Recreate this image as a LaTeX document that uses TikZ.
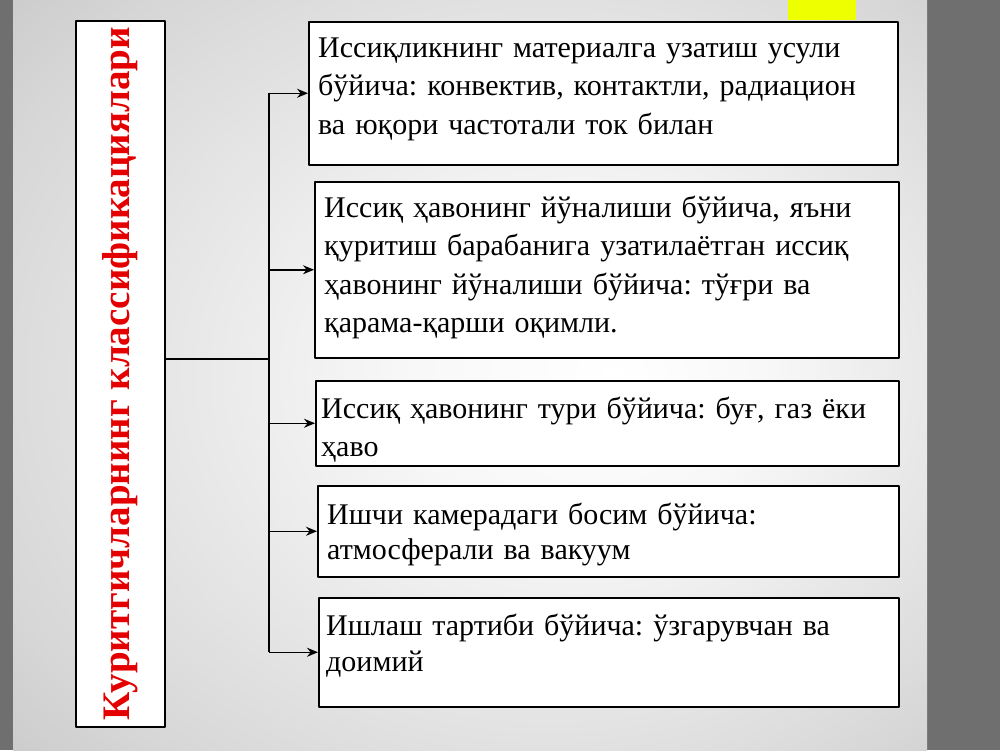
\documentclass[tikz,border=0pt]{standalone}
\usepackage{fontspec}
\setmainfont{Liberation Serif}
\usetikzlibrary{positioning,arrows.meta}
\definecolor{slidegray}{RGB}{111,111,111}
\definecolor{titlered}{RGB}{228,0,0}
\definecolor{markyellow}{RGB}{238,255,0}
\pgfdeclareradialshading{slideshade}{\pgfpoint{8bp}{0bp}}{color(0bp)=(white); color(10bp)=(white!97!black); color(32bp)=(white!84!black); color(50bp)=(white!70!black)}
\frenchspacing
\begin{document}
\begin{tikzpicture}[x=1pt, y=-1pt, line join=round, >={Stealth[length=11pt,width=9pt]},
	catbox/.style={draw=black, line width=1.5pt, fill=white, anchor=north west, inner sep=0pt},
	cattext/.style={anchor=base west, align=left, inner sep=0pt, text width=575pt, font=\fontsize{30}{38.5}\selectfont},
	link/.style={line width=1.5pt}]
	\useasboundingbox (0,0) rectangle (1000,750);
	\fill[slidegray] (0,0) rectangle (1000,750);
	\shade[shading=slideshade] (13,0) rectangle (927,750);
	\fill[markyellow] (788,0) rectangle (856,20);
	\node[catbox, minimum width=89, minimum height=706] (title) at (75,20) {};
	\node[rotate=90, text=titlered, font=\fontsize{39}{39}\selectfont\bfseries] at (title.center) {Куритгичларнинг классификациялари};
	\node[catbox, minimum width=589, minimum height=143] (c1) at (308,21) {};
	\node[catbox, minimum width=584, minimum height=176] (c2) at (314,181) {};
	\node[catbox, minimum width=583, minimum height=85] (c3) at (315,380) {};
	\node[catbox, minimum width=581, minimum height=91] (c4) at (317,485) {};
	\node[catbox, minimum width=580, minimum height=109] (c5) at (318,597) {};
	\node[cattext] at ([xshift=10pt, yshift=-36pt]c1.north west) {Иссиқликнинг материалга узатиш усули\\ бўйича: конвектив, контактли, радиацион\\ ва юқори частотали ток билан};
	\node[cattext] at ([xshift=10pt, yshift=-36pt]c2.north west) {Иссиқ ҳавонинг йўналиши бўйича, яъни\\ қуритиш барабанига узатилаётган иссиқ\\ ҳавонинг йўналиши бўйича: тўғри ва\\ қарама-қарши оқимли.};
	\node[cattext] at ([xshift=6pt, yshift=-38pt]c3.north west) {Иссиқ ҳавонинг тури бўйича: буғ, газ ёки\\ ҳаво};
	\node[cattext, font=\fontsize{30}{35.5}\selectfont] at ([xshift=10pt, yshift=-39pt]c4.north west) {Ишчи камерадаги босим бўйича:\\ атмосферали ва вакуум};
	\node[cattext, font=\fontsize{30}{36.5}\selectfont] at ([xshift=8pt, yshift=-38pt]c5.north west) {Ишлаш тартиби бўйича: ўзгарувчан ва\\ доимий};
	\coordinate (hub) at (269,359);
	\draw[link] (title.east |- hub) -- (hub);
	\draw[link] (hub |- c1.west) -- (hub |- c5.west);
	\foreach \c in {c1,c2,c3,c4,c5}
	\draw[link,->] (hub |- \c.west) -- (\c.west);
\end{tikzpicture}
\end{document}
